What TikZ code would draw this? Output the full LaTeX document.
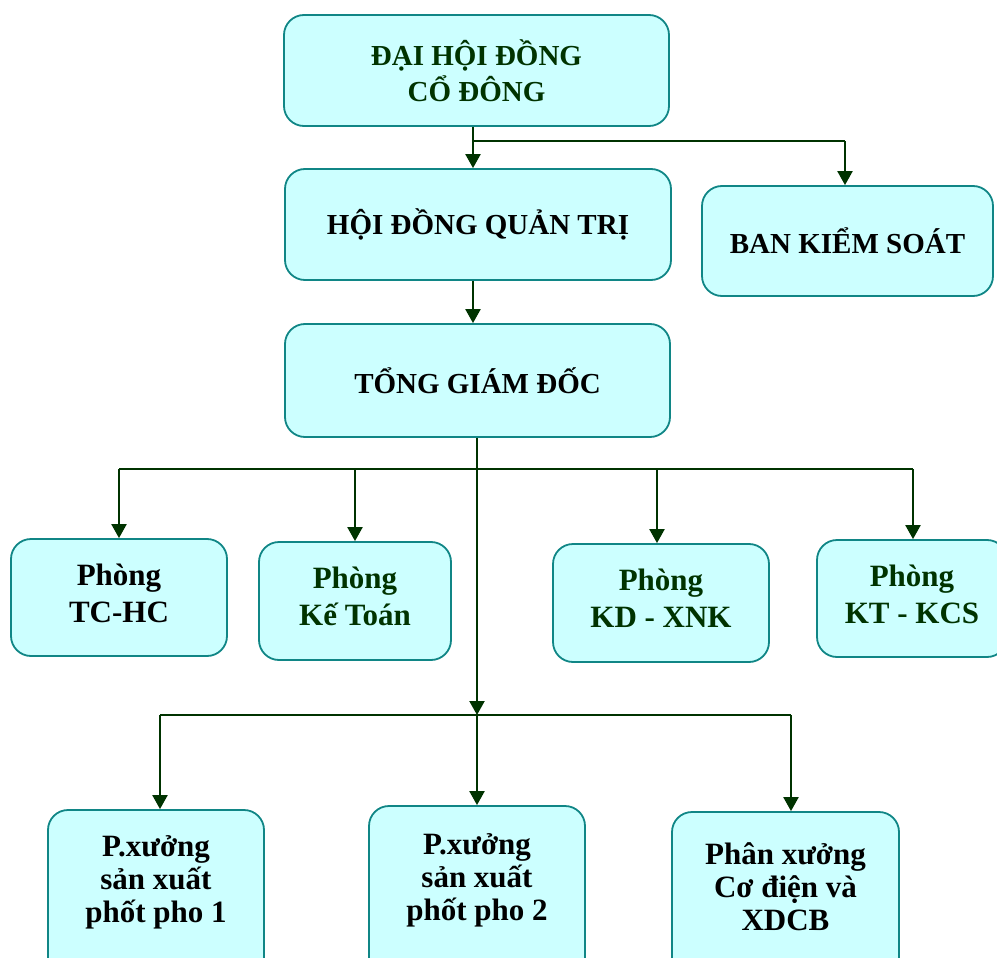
\documentclass[tikz,border=0pt]{standalone}
\usepackage{fontspec}
\setmainfont{Liberation Serif}
\usetikzlibrary{arrows.meta}
\definecolor{boxfill}{RGB}{204,255,255}
\definecolor{boxline}{RGB}{16,134,134}
\definecolor{dkgreen}{RGB}{0,51,0}
\tikzset{
  orgbox/.style={draw=boxline, line width=1.8pt, fill=boxfill, rounded corners=20pt,
    inner sep=0pt, align=center, font=\bfseries\fontsize{29}{36}\selectfont},
  roombox/.style={orgbox, font=\bfseries\fontsize{31}{37}\selectfont},
  shopbox/.style={orgbox, font=\bfseries\fontsize{31}{33}\selectfont},
  conn/.style={draw=dkgreen, line width=2.2pt},
  arr/.style={conn, -{Triangle[width=15pt,length=14pt]}},
}
\begin{document}
\begin{tikzpicture}[x=1pt,y=-1pt]
\useasboundingbox (0,0) rectangle (997,958);
\clip (0,0) rectangle (997,958);
% top level
\node[orgbox, text=dkgreen, minimum width=385pt, minimum height=111pt] (dhdcd) at (476.5,70.5) {ĐẠI HỘI ĐỒNG\\CỔ ĐÔNG};
\node[orgbox, minimum width=386pt, minimum height=111pt] (hdqt) at (478,224.5) {HỘI ĐỒNG QUẢN TRỊ};
\node[orgbox, minimum width=291pt, minimum height=110pt] (bks) at (847.5,241) {BAN KIỂM SOÁT};
\node[orgbox, minimum width=385pt, minimum height=113pt] (tgd) at (477.5,380.5) {TỔNG GIÁM ĐỐC};
% departments
\node[roombox, minimum width=216pt, minimum height=117pt, text depth=9pt] (tchc) at (119,597.5) {Phòng\\TC-HC};
\node[roombox, text=dkgreen, minimum width=192pt, minimum height=118pt, text depth=9pt] (ketoan) at (355,601) {Phòng\\Kế Toán};
\node[roombox, text=dkgreen, minimum width=216pt, minimum height=118pt, text depth=9pt] (kdxnk) at (661,603) {Phòng\\KD - XNK};
\node[roombox, text=dkgreen, minimum width=190pt, minimum height=117pt, text depth=9pt] (ktkcs) at (912,598.5) {Phòng\\KT - KCS};
% workshops
\node[shopbox, minimum width=216pt, minimum height=180pt, text depth=42pt] (pxa) at (156,900) {P.xưởng\\sản xuất\\phốt pho 1};
\node[shopbox, minimum width=216pt, minimum height=180pt, text depth=38pt] (pxb) at (477,896) {P.xưởng\\sản xuất\\phốt pho 2};
\node[shopbox, minimum width=227pt, minimum height=180pt, text depth=30pt] (pxc) at (785.5,902) {Phân xưởng\\Cơ điện và\\XDCB};
% junction coordinates
\coordinate (j1) at (473,141);
\coordinate (dk) at (845,141);
\coordinate (j2) at (477,469);
\coordinate (j3) at (477,715);
\coordinate (d1) at (119,469);
\coordinate (d2) at (355,469);
\coordinate (d3) at (657,469);
\coordinate (d4) at (913,469);
\coordinate (da) at (160,715);
\coordinate (dc) at (791,715);
% connectors
\draw[arr] (dhdcd.south -| j1) -- (hdqt.north -| j1);
\draw[conn] (j1) -- (dk);
\draw[arr] (dk) -- (dk |- bks.north);
\draw[arr] (hdqt.south -| j1) -- (tgd.north -| j1);
\draw[arr] (tgd.south -| j2) -- (j3);
\draw[conn] (d1) -- (d4);
\draw[arr] (d1) -- (d1 |- tchc.north);
\draw[arr] (d2) -- (d2 |- ketoan.north);
\draw[arr] (d3) -- (d3 |- kdxnk.north);
\draw[arr] (d4) -- (d4 |- ktkcs.north);
\draw[conn] (da) -- (dc);
\draw[arr] (da) -- (da |- pxa.north);
\draw[arr] (j3) -- (j3 |- pxb.north);
\draw[arr] (dc) -- (dc |- pxc.north);
\end{tikzpicture}
\end{document}
